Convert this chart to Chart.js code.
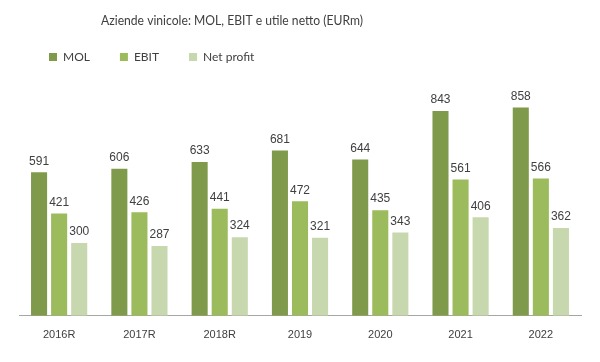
<!DOCTYPE html>
<html>
<head>
<meta charset="utf-8">
<script src="https://cdn.jsdelivr.net/npm/chart.js@4"></script>
<style>
  html, body { margin: 0; padding: 0; background: #ffffff; }
  #wrap { width: 600px; height: 362px; }
</style>
</head>
<body>
<div id="wrap"><canvas id="chart" width="600" height="362"></canvas></div>
<script>
const YEARS = ['2016R', '2017R', '2018R', '2019', '2020', '2021', '2022'];
const MOL = [591, 606, 633, 681, 644, 843, 858];
const EBIT = [421, 426, 441, 472, 435, 561, 566];
const NET_PROFIT = [300, 287, 324, 321, 343, 406, 362];

const TITLE = 'Aziende vinicole: MOL, EBIT e utile netto (EURm)';
const TEXT_COLOR = '#404040';

const titlePlugin = {
  id: 'sideTitle',
  afterDraw(chart) {
    const ctx = chart.ctx;
    ctx.save();
    ctx.font = '14px Lato';
    ctx.fillStyle = TEXT_COLOR;
    ctx.textAlign = 'left';
    ctx.textBaseline = 'middle';
    ctx.fillText(TITLE, 101, 20, 262);
    ctx.restore();
  },
};

const valueLabels = {
  id: 'valueLabels',
  afterDatasetsDraw(chart) {
    const ctx = chart.ctx;
    ctx.save();
    ctx.font = '12px "Liberation Sans"';
    ctx.fillStyle = TEXT_COLOR;
    ctx.textAlign = 'center';
    ctx.textBaseline = 'bottom';
    chart.data.datasets.forEach((ds, i) => {
      chart.getDatasetMeta(i).data.forEach((bar, j) => {
        ctx.fillText(ds.data[j], bar.x, bar.y - 5);
      });
    });
    ctx.restore();
  },
};

new Chart(document.getElementById('chart'), {
  type: 'bar',
  data: {
    labels: YEARS,
    datasets: [
      { label: 'MOL', data: MOL, backgroundColor: '#809A4C' },
      { label: 'EBIT', data: EBIT, backgroundColor: '#9CBB5C' },
      { label: 'Net profit', data: NET_PROFIT, backgroundColor: '#C7D7AE' },
    ],
  },
  options: {
    responsive: false,
    animation: false,
    devicePixelRatio: 1,
    layout: { padding: { top: 21, left: 19, right: 19, bottom: 15 } },
    datasets: { bar: { barPercentage: 0.8, categoryPercentage: 0.75 } },
    plugins: {
      title: { display: false },
      tooltip: { enabled: false },
      legend: {
        position: 'top',
        align: 'start',
        labels: {
          boxWidth: 8,
          boxHeight: 8,
          padding: 30,
          color: TEXT_COLOR,
          font: { family: 'Lato', size: 12 },
        },
      },
    },
    scales: {
      x: {
        grid: { display: false },
        border: { color: '#A6A6A6', width: 1 },
        ticks: { color: TEXT_COLOR, font: { family: 'Liberation Sans', size: 11 }, padding: 5 },
      },
      y: { display: false, min: 0, max: 1000 },
    },
  },
  plugins: [titlePlugin, valueLabels],
});
</script>
</body>
</html>
